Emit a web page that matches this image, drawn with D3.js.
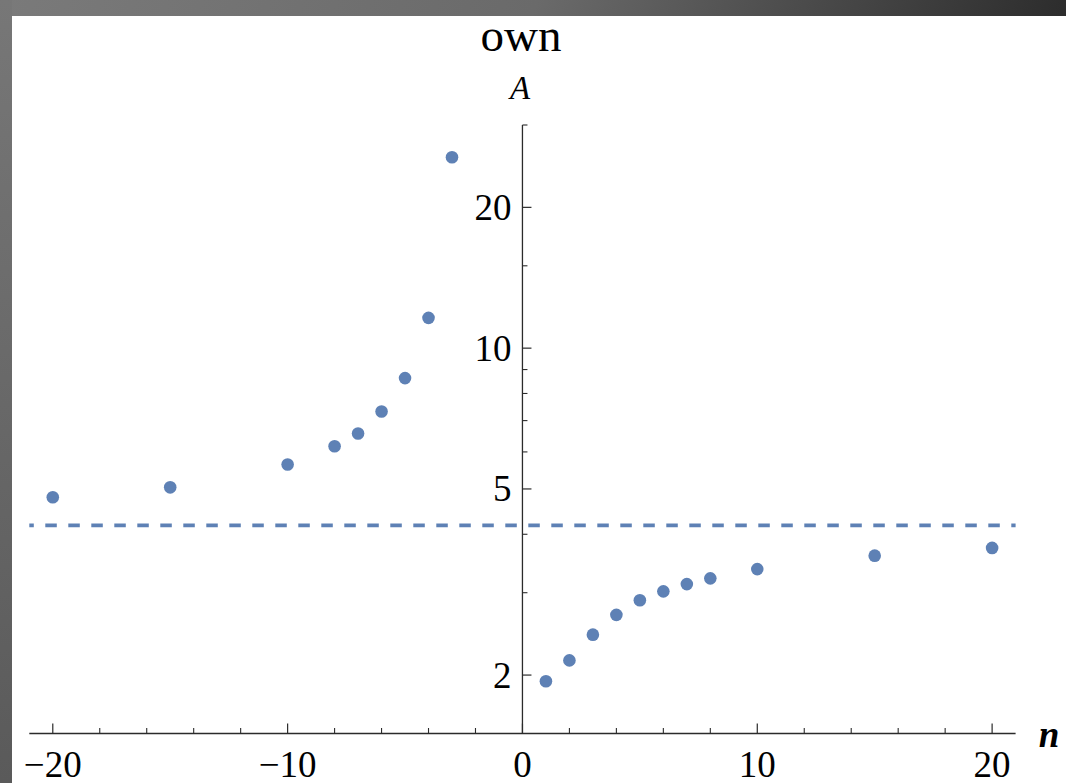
<!DOCTYPE html>
<html>
<head>
<meta charset="utf-8">
<script src="https://cdn.jsdelivr.net/npm/d3@7"></script>
<style>
html,body{margin:0;padding:0;overflow:hidden;}
svg{display:block;}
</style>
</head>
<body>
<svg id="chart" width="1066" height="783"></svg>
<script>
// ---- data ----
const nValues = [-20, -15, -10, -8, -7, -6, -5, -4, -3, 1, 2, 3, 4, 5, 6, 7, 8, 10, 15, 20];
const aValues = [4.80, 5.04, 5.64, 6.17, 6.57, 7.32, 8.63, 11.61, 25.6,
                 1.94, 2.15, 2.44, 2.69, 2.89, 3.02, 3.13, 3.22, 3.37, 3.60, 3.74];
const asymptote = 4.18;
const xMajorTicks = [-20, -10, 0, 10, 20];
const xMinorTicks = [-18, -16, -14, -12, -8, -6, -4, -2, 2, 4, 6, 8, 12, 14, 16, 18];
const yMajorTicks = [2, 5, 10, 20];
const yMinorTicks = [3, 4, 6, 7, 8, 9, 15, 30];
const titleText = "own";
const yLabelText = "A";
const xLabelText = "n";

const W = 1066, H = 783;
const svg = d3.select("#chart");
const color = "#5E81B5";
const axisColor = "#2b2b2b";
const serif = "'Liberation Serif','Times New Roman',serif";

// background frame
const defs = svg.append("defs");
const grad = defs.append("linearGradient").attr("id", "bg")
  .attr("x1", "0").attr("y1", "0").attr("x2", "1").attr("y2", "0.35");
grad.append("stop").attr("offset", "0").attr("stop-color", "#7a7a7a");
grad.append("stop").attr("offset", "0.45").attr("stop-color", "#6a6a6a");
grad.append("stop").attr("offset", "1").attr("stop-color", "#1e1e1e");
svg.append("rect").attr("width", W).attr("height", H).attr("fill", "url(#bg)");
const gradL = defs.append("linearGradient").attr("id", "bgL")
  .attr("x1", "0").attr("y1", "0").attr("x2", "0").attr("y2", "1");
gradL.append("stop").attr("offset", "0").attr("stop-color", "#777");
gradL.append("stop").attr("offset", "1").attr("stop-color", "#5a5a5a");
svg.append("rect").attr("x", 0).attr("y", 0).attr("width", 12).attr("height", H).attr("fill", "url(#bgL)");
svg.append("rect").attr("x", 12).attr("y", 16).attr("width", W - 12).attr("height", H - 16).attr("fill", "#fff");

// scales
const x = d3.scaleLinear().domain([-21, 21]).range([29.3, 1015.6]);
const y = d3.scaleLog().domain([1.5, 30]).range([733.5, 125]);

const x0 = x(0), yAxisPos = y(1.5);

// asymptote (dashed)
svg.append("line")
  .attr("x1", x(-21)).attr("x2", x(21))
  .attr("y1", y(asymptote)).attr("y2", y(asymptote))
  .attr("stroke", color).attr("stroke-width", 3.6)
  .attr("stroke-dasharray", "11.5,11.5").attr("stroke-dashoffset", 7);

// x axis
svg.append("line").attr("x1", x(-21)).attr("x2", x(21))
  .attr("y1", yAxisPos).attr("y2", yAxisPos)
  .attr("stroke", axisColor).attr("stroke-width", 1.3);
svg.selectAll(".xmaj").data(xMajorTicks).enter().append("line")
  .attr("x1", d => x(d)).attr("x2", d => x(d))
  .attr("y1", yAxisPos).attr("y2", yAxisPos - 10)
  .attr("stroke", axisColor).attr("stroke-width", 1.2);
svg.selectAll(".xmin").data(xMinorTicks).enter().append("line")
  .attr("x1", d => x(d)).attr("x2", d => x(d))
  .attr("y1", yAxisPos).attr("y2", yAxisPos - 5.5)
  .attr("stroke", axisColor).attr("stroke-width", 1.1);
svg.selectAll(".xlab").data(xMajorTicks).enter().append("text")
  .attr("x", d => x(d)).attr("y", 777)
  .attr("text-anchor", "middle")
  .attr("font-family", serif).attr("font-size", 37).attr("fill", "#000")
  .text(d => d < 0 ? "\u2212" + Math.abs(d) : String(d));

// y axis
svg.append("line").attr("x1", x0).attr("x2", x0)
  .attr("y1", y(30)).attr("y2", y(1.5))
  .attr("stroke", axisColor).attr("stroke-width", 1.3);
svg.selectAll(".ymaj").data(yMajorTicks).enter().append("line")
  .attr("x1", x0).attr("x2", x0 + 9)
  .attr("y1", d => y(d)).attr("y2", d => y(d))
  .attr("stroke", axisColor).attr("stroke-width", 1.2);
svg.selectAll(".ymin").data(yMinorTicks).enter().append("line")
  .attr("x1", x0).attr("x2", x0 + 5)
  .attr("y1", d => y(d)).attr("y2", d => y(d))
  .attr("stroke", axisColor).attr("stroke-width", 1.1);
svg.selectAll(".ylab").data(yMajorTicks).enter().append("text")
  .attr("x", x0 - 11).attr("y", d => y(d) + 12.5)
  .attr("text-anchor", "end")
  .attr("font-family", serif).attr("font-size", 37).attr("fill", "#000")
  .text(d => String(d));

// points
svg.selectAll(".pt").data(nValues.map((n, i) => [n, aValues[i]])).enter().append("circle")
  .attr("cx", d => x(d[0])).attr("cy", d => y(d[1]))
  .attr("r", 6.3).attr("fill", color);

// labels
svg.append("text").attr("x", 521).attr("y", 51).attr("text-anchor", "middle")
  .attr("font-family", serif).attr("font-size", 47).attr("fill", "#000").text(titleText);
svg.append("text").attr("x", 520).attr("y", 99).attr("text-anchor", "middle")
  .attr("font-family", serif).attr("font-style", "italic").attr("font-size", 33).attr("fill", "#000").text(yLabelText);
svg.append("text").attr("x", 1049).attr("y", 747).attr("text-anchor", "middle")
  .attr("font-family", serif).attr("font-style", "italic").attr("font-weight", "bold")
  .attr("font-size", 37).attr("fill", "#000").text(xLabelText);
</script>
</body>
</html>
